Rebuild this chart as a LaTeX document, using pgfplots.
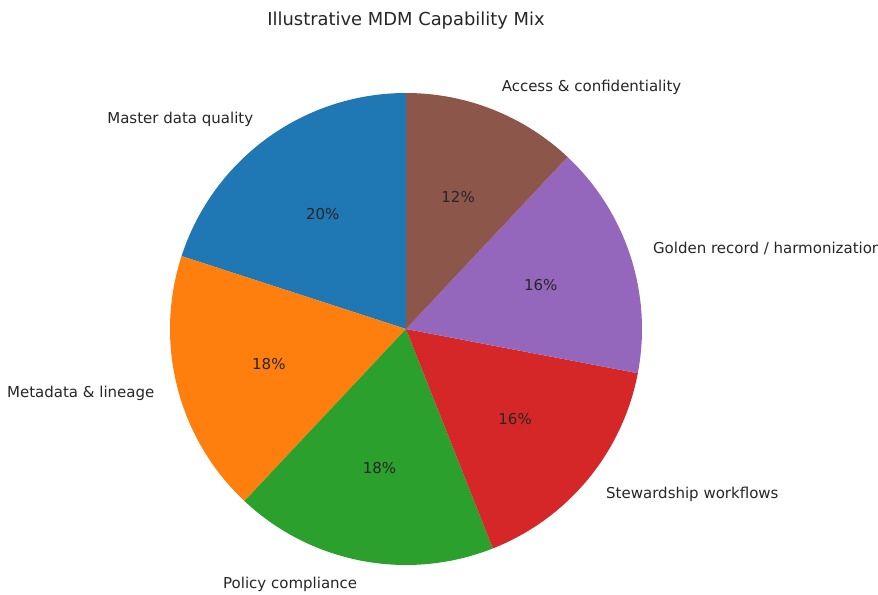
\documentclass[border=0pt]{standalone}
\usepackage{pgfplots}
\pgfplotsset{compat=1.18}
\usepackage{fontspec}
\setmainfont{DejaVu Sans}
\definecolor{c1}{HTML}{1F77B4}
\definecolor{c2}{HTML}{FF7F0E}
\definecolor{c3}{HTML}{2CA02C}
\definecolor{c4}{HTML}{D62728}
\definecolor{c5}{HTML}{9467BD}
\definecolor{c6}{HTML}{8C564B}
\definecolor{txt}{HTML}{262626}
% #1 cumulative start (%), #2 value (%), #3 colour, #4 label
\newcommand{\pieslice}[4]{%
  \pgfmathsetmacro\aS{90+3.6*#1}%
  \pgfmathsetmacro\aE{90+3.6*(#1+#2)}%
  \pgfmathsetmacro\aM{(\aS+\aE)/2}%
  \pgfmathsetmacro\lx{1.1*cos(\aM)}%
  \pgfmathsetmacro\ly{1.1*sin(\aM)}%
  \pgfmathsetmacro\px{0.6*cos(\aM)}%
  \pgfmathsetmacro\py{0.6*sin(\aM)}%
  \pgfmathparse{\lx>0 ? "west" : "east"}\edef\anc{\pgfmathresult}%
  \edef\temp{%
    \noexpand\addplot[fill=#3, draw=none, domain=\aS:\aE, samples=80, variable=\noexpand\t]
      ({cos(\noexpand\t)},{sin(\noexpand\t)}) -- (axis cs:0,0) -- cycle;
    \noexpand\node[anchor=\anc, inner sep=0pt, font=\noexpand\lblfont, text=txt] at (axis cs:\lx,\ly) {#4};
    \noexpand\node[inner sep=0pt, font=\noexpand\lblfont, text=txt] at (axis cs:\px,\py) {#2\noexpand\%};
  }%
  \temp
}
\newcommand{\lblfont}{\fontsize{15bp}{17bp}\selectfont}
\begin{document}
\begin{tikzpicture}
\useasboundingbox (0,0) rectangle (878bp,595bp);
\begin{axis}[
  at={(0,0)}, anchor=south west,
  width=878bp, height=595bp, scale only axis,
  xmin=-1.72034, xmax=2.0, ymin=-1.12712, ymax=1.39407,
  hide axis, clip=false,
]
\pieslice{0}{20}{c1}{Master data quality}
\pieslice{20}{18}{c2}{Metadata \& lineage}
\pieslice{38}{18}{c3}{Policy compliance}
\pieslice{56}{16}{c4}{Stewardship workflows}
\pieslice{72}{16}{c5}{Golden record / harmonization}
\pieslice{88}{12}{c6}{Access \& confidentiality}
\node[font=\fontsize{17.9bp}{21bp}\selectfont, text=txt] at (axis cs:0.0,1.309) {Illustrative MDM Capability Mix};
\end{axis}
\end{tikzpicture}
\end{document}
